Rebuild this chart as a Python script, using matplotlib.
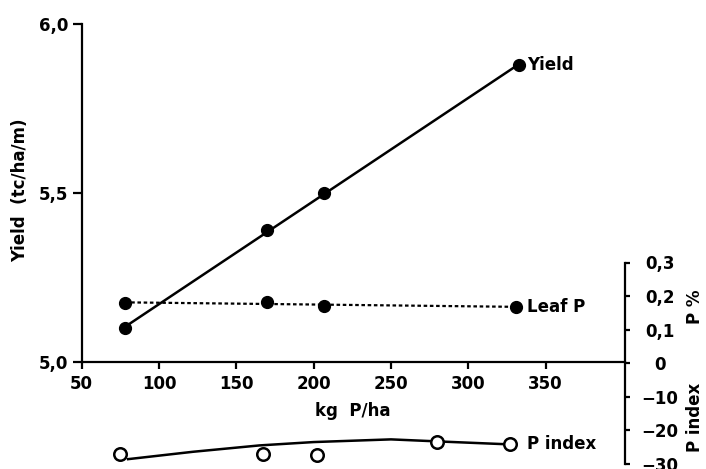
import numpy as np
import matplotlib.pyplot as plt

# fertiliser rate (kg P/ha) and cane yield (tc/ha/m)
yield_x = [78, 170, 207, 333]
yield_y = [5.10, 5.39, 5.50, 5.88]

# leaf P (%)
leaf_x = [78, 170, 207, 331]
leaf_p = [0.180, 0.181, 0.170, 0.168]

# P index, open circles and the hand drawn curve
pindex_x = [75, 167, 202, 280, 327]
pindex_y = [-27.3, -27.3, -27.5, -23.5, -24.3]
curve_x = [80, 122, 165, 200, 250, 280, 327]
curve_y = [-28.7, -26.5, -24.6, -23.6, -22.8, -23.4, -24.3]

x_ticks = [50, 100, 150, 200, 250, 300, 350]
y_ticks = [5.0, 5.5, 6.0]
y_labels = ["5,0", "5,5", "6,0"]
# right axis: P % (x100) above zero, P index below zero
r_ticks = [30, 20, 10, 0, -10, -20, -30]
r_labels = ["0,3", "0,2", "0,1", "0", "\u221210", "\u221220", "\u221230"]

plt.rcParams["font.family"] = ["DejaVu Sans"]
plt.rcParams["font.weight"] = "bold"
plt.rcParams["axes.labelweight"] = "bold"
plt.rcParams["font.size"] = 12

W, H = 706, 469
fig = plt.figure(figsize=(W / 100, H / 100), dpi=100)

x0, x1 = 81.7, 624.5
ax = fig.add_axes([x0 / W, 1 - 362 / H, (x1 - x0) / W, (362 - 24.3) / H])
ax2 = fig.add_axes([x0 / W, 0, (x1 - x0) / W, 1 - 24.3 / H])
ax2.patch.set_visible(False)

xlim = (50, 401)
ax.set_xlim(xlim)
ax.set_ylim(5.0, 6.0)
ax2.set_xlim(xlim)
ax2.set_ylim(-(H - 363) / 3.35, (363 - 24.3) / 3.35)

# yield
k = np.polyfit(yield_x, yield_y, 1)
xs = np.array([yield_x[0], yield_x[-1]])
ax.plot(xs, np.polyval(k, xs), color="black", lw=1.8, solid_capstyle="round")
ax.plot(yield_x, yield_y, "o", color="black", ms=8.5)

# leaf P
k2 = np.polyfit(leaf_x, leaf_p, 1)
xs2 = np.array([leaf_x[0], leaf_x[-1]])
ax2.plot(xs2, np.polyval(k2, xs2) * 100, color="black", lw=1.6,
         linestyle=(0, (1.6, 1.2)))
ax2.plot(leaf_x, np.array(leaf_p) * 100, "o", color="black", ms=8.5)

# P index
ax2.plot(curve_x, curve_y, color="black", lw=1.8)
ax2.plot(pindex_x, pindex_y, "o", mfc="white", mec="black", mew=1.8, ms=9)

for s in ["top", "right"]:
    ax.spines[s].set_visible(False)
for s in ["left", "bottom"]:
    ax.spines[s].set_linewidth(1.6)
ax.set_xticks(x_ticks)
ax.set_yticks(y_ticks)
ax.set_yticklabels(y_labels)
ax.tick_params(axis="x", direction="out", length=5, width=1.6, pad=4)
ax.tick_params(axis="y", direction="out", length=6.5, width=1.6, pad=3)
ax.set_xlabel("kg  P/ha", labelpad=7)

for s in ["top", "left", "bottom"]:
    ax2.spines[s].set_visible(False)
ax2.spines["right"].set_linewidth(1.6)
ax2.spines["right"].set_bounds(-30, 30)
ax2.set_xticks([])
ax2.yaxis.tick_right()
ax2.set_yticks(r_ticks)
ax2.set_yticklabels(r_labels)
ax2.tick_params(axis="y", direction="out", length=3.6, width=1.6, pad=22)
for t in ax2.get_yticklabels():
    t.set_horizontalalignment("center")

# series labels
lx = 338
ax.text(lx, yield_y[-1], "Yield", va="center", ha="left")
ax2.text(lx, leaf_p[-1] * 100, "Leaf P", va="center", ha="left")
ax2.text(lx, pindex_y[-1], "P index", va="center", ha="left")

fig.text(20 / W, 1 - 190 / H, "Yield  (tc/ha/m)", rotation=90, ha="center", va="center")
fig.text(695 / W, 1 - 307 / H, "P %", rotation=90, ha="center", va="center")
fig.text(695 / W, 1 - 417 / H, "P index", rotation=90, ha="center", va="center")

fig.savefig("out.png", dpi=100)
